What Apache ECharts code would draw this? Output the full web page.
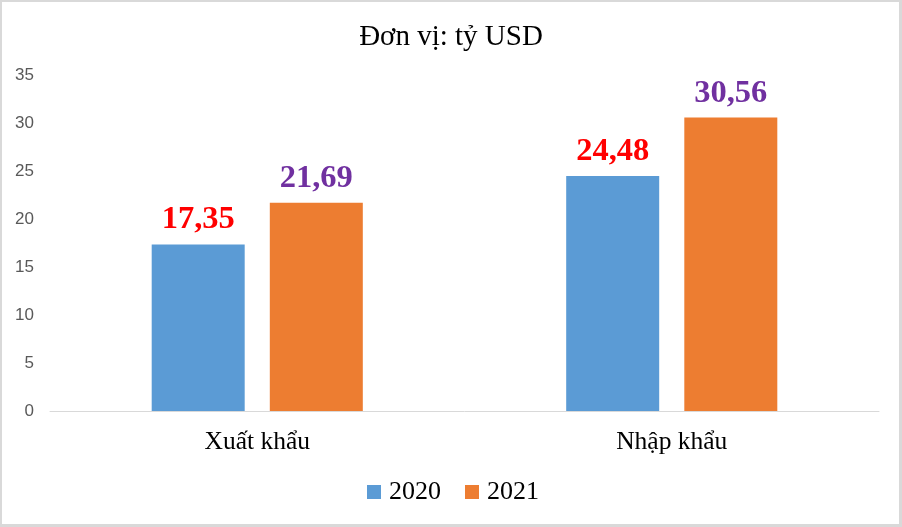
<!DOCTYPE html>
<html>
<head>
<meta charset="utf-8">
<script src="https://cdn.jsdelivr.net/npm/echarts@6/dist/echarts.min.js"></script>
<style>
html,body{margin:0;padding:0;background:#fff;}
#c{width:902px;height:527px;position:absolute;left:0;top:0;}
#b{position:absolute;left:0;top:0;width:902px;height:527px;box-sizing:border-box;border-style:solid;border-color:#d9d9d9;border-width:2px 3px 3px 2px;pointer-events:none;}
</style>
</head>
<body>
<div id="c"></div>
<div id="b"></div>
<script>
const categories = ['Xuất khẩu', 'Nhập khẩu'];
const series2020 = [17.35, 24.48];
const series2021 = [21.69, 30.56];
const seriesNames = ['2020', '2021'];
const titleText = 'Đơn vị: tỷ USD';

const serif = '"Liberation Serif", "Times New Roman", serif';
const chart = echarts.init(document.getElementById('c'));
function fmt(p){ return p.value.toFixed(2).replace('.', ','); }
chart.setOption({
  animation: false,
  title: {text: titleText, left: 'center', top: 18, textStyle: {fontFamily: serif, fontSize: 29, fontWeight: 'normal', color: '#000'}},
  legend: {
    data: seriesNames, top: 474, left: 362, itemWidth: 14, itemHeight: 14, itemGap: 24,
    icon: 'rect',
    textStyle: {fontFamily: serif, fontSize: 26, color: '#000', padding: [0, 0, 0, 3]}
  },
  grid: {left: 50, right: 23, top: 75, bottom: 116},
  xAxis: {
    type: 'category', data: categories,
    axisLine: {lineStyle: {color: '#d9d9d9', width: 1}},
    axisTick: {show: false},
    axisLabel: {fontFamily: serif, fontSize: 25.5, color: '#000', margin: 18}
  },
  yAxis: {
    type: 'value', min: 0, max: 35, interval: 5,
    axisLine: {show: false}, axisTick: {show: false},
    splitLine: {show: false},
    axisLabel: {fontFamily: '"Liberation Sans", Arial, sans-serif', fontSize: 17, color: '#595959', margin: 16}
  },
  series: [
    {name: seriesNames[0], type: 'bar', data: series2020, barWidth: 93, barGap: '27%',
     itemStyle: {color: '#5b9bd5'},
     label: {show: true, position: 'top', distance: 8, formatter: fmt, fontFamily: serif, fontSize: 32.5, fontWeight: 'bold', color: '#ff0000'}},
    {name: seriesNames[1], type: 'bar', data: series2021, barWidth: 93,
     itemStyle: {color: '#ed7d31'},
     label: {show: true, position: 'top', distance: 8, formatter: fmt, fontFamily: serif, fontSize: 32.5, fontWeight: 'bold', color: '#7030a0'}}
  ]
});
</script>
</body>
</html>
